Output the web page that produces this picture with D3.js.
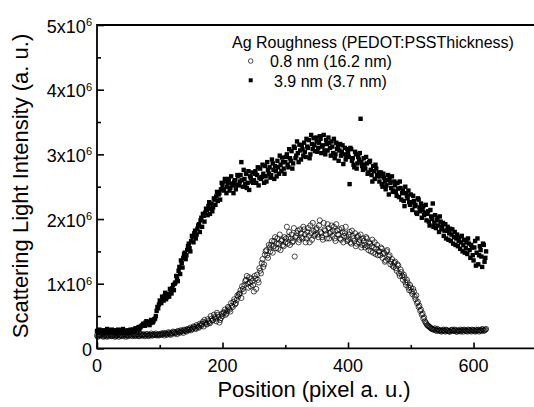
<!DOCTYPE html>
<html>
<head>
<meta charset="utf-8">
<script src="https://cdn.jsdelivr.net/npm/d3@7"></script>
<style>
  body { margin: 0; background: #fff; }
  svg text { font-family: "Liberation Sans", Arial, sans-serif; fill: #000; }
</style>
</head>
<body>
<svg width="534" height="407"></svg>
<script>
// sample positions (pixel a. u.): a main grid every 2.5 px and an in-between grid
var positions = d3.range(0, 620.1, 2.5);
var positionsB = d3.range(1.25, 620, 2.5);

// Ag roughness 3.9 nm (3.7 nm) - filled squares, in units of 1e6
var rough39 = [
  0.27,0.25,0.28,0.26,0.24,0.27,0.26,0.28,0.25,0.27,
  0.26,0.24,0.27,0.25,0.28,0.26,0.25,0.27,0.24,0.26,
  0.27,0.25,0.28,0.29,0.27,0.30,0.31,0.29,0.34,0.36,
  0.38,0.40,0.37,0.41,0.39,0.43,0.42,0.46,0.58,0.62,
  0.74,0.70,0.78,0.81,0.76,0.84,0.80,0.88,0.93,0.90,
  1.02,1.08,1.20,1.15,1.32,1.40,1.48,1.44,1.58,1.55,
  1.66,1.72,1.78,1.70,1.85,1.92,1.98,1.88,2.05,2.10,
  2.14,2.20,2.08,2.24,2.18,2.30,2.35,2.28,2.40,2.46,
  2.52,2.44,2.58,2.50,2.62,2.48,2.55,2.40,2.60,2.53,
  2.66,2.58,2.88,2.50,2.62,2.70,2.56,2.45,2.64,2.72,
  2.60,2.74,2.68,2.52,2.78,2.65,2.70,2.82,2.58,2.76,
  2.80,2.68,2.86,2.62,2.74,2.90,2.70,2.84,2.95,2.78,
  2.88,3.00,2.80,2.94,3.05,2.86,3.10,2.98,3.02,3.15,
  2.92,3.08,3.18,2.96,3.12,3.22,3.00,3.16,3.25,3.05,
  3.20,3.10,3.28,3.02,3.14,3.06,3.22,3.06,3.18,2.98,
  3.12,3.24,3.00,3.08,2.90,3.16,3.04,2.85,3.10,2.96,
  3.02,2.54,3.08,2.94,2.80,3.00,2.86,2.92,3.55,2.82,
  2.94,2.78,2.86,2.72,2.90,2.68,2.82,2.62,2.78,2.66,
  2.58,2.72,2.50,2.64,2.46,2.60,2.38,2.56,2.66,2.44,
  2.52,2.36,2.47,2.58,2.30,2.44,2.20,2.40,2.32,2.26,
  2.38,2.14,2.28,2.22,2.08,2.30,2.12,2.02,2.20,2.10,
  1.98,2.12,1.90,2.04,2.24,1.94,1.86,2.02,1.80,1.96,
  1.88,1.74,1.92,1.82,1.68,1.85,1.76,1.62,1.80,1.70,
  1.58,1.72,1.64,1.50,1.68,1.55,1.46,1.62,1.40,1.56,
  1.36,1.66,1.48,1.30,1.58,1.42,1.62,1.34,1.50
];
var rough39b = [
  0.24,0.29,0.26,0.23,0.28,0.25,0.30,0.24,0.27,0.29,
  0.25,0.28,0.23,0.29,0.26,0.24,0.30,0.27,0.25,0.28,
  0.24,0.29,0.26,0.27,0.31,0.28,0.33,0.32,0.35,0.38,
  0.35,0.42,0.40,0.36,0.44,0.40,0.45,0.50,0.64,0.68,
  0.72,0.80,0.74,0.86,0.79,0.82,0.92,0.85,0.98,1.00,
  1.12,1.04,1.26,1.36,1.25,1.46,1.38,1.52,1.62,1.50,
  1.74,1.64,1.82,1.76,1.90,1.80,2.02,2.08,1.96,2.16,
  2.06,2.26,2.16,2.12,2.32,2.22,2.42,2.38,2.30,2.56,
  2.46,2.62,2.40,2.56,2.44,2.66,2.52,2.58,2.46,2.68,
  2.52,2.68,2.60,2.76,2.54,2.48,2.74,2.66,2.58,2.56,
  2.70,2.56,2.80,2.64,2.62,2.84,2.56,2.66,2.88,2.70,
  2.64,2.92,2.76,2.82,2.66,2.80,2.98,2.74,2.88,2.70,
  2.96,2.84,3.08,2.90,2.78,3.12,2.94,3.20,2.88,3.06,
  3.14,2.98,3.04,3.24,3.10,2.94,3.30,3.08,3.14,3.26,
  3.04,3.18,3.24,3.12,3.30,3.00,3.16,3.26,3.10,3.20,
  3.02,2.94,3.18,3.12,3.06,2.98,3.14,3.00,2.92,3.08,
  2.96,3.10,2.90,2.84,3.04,2.78,2.96,3.02,2.88,2.76,
  2.84,2.96,2.70,2.88,2.76,2.58,2.74,2.84,2.68,2.72,
  2.66,2.54,2.70,2.58,2.52,2.68,2.62,2.48,2.42,2.58,
  2.42,2.56,2.34,2.48,2.40,2.28,2.50,2.36,2.44,2.22,
  2.26,2.36,2.20,2.10,2.32,2.18,2.24,2.14,2.06,2.22,
  2.08,1.96,2.14,2.00,1.88,2.06,1.98,1.90,2.04,1.84,
  1.94,1.82,1.70,1.88,1.78,1.66,1.84,1.72,1.60,1.76,
  1.66,1.54,1.74,1.60,1.48,1.64,1.70,1.52,1.60,1.44,
  1.56,1.28,1.70,1.44,1.52,1.26,1.60,1.40
];

// Ag roughness 0.8 nm (16.2 nm) - open circles, in units of 1e6
var rough08 = [
  0.20,0.19,0.21,0.20,0.18,0.21,0.19,0.20,0.22,0.19,
  0.20,0.21,0.19,0.20,0.18,0.21,0.20,0.19,0.21,0.20,
  0.19,0.21,0.20,0.22,0.19,0.20,0.21,0.19,0.22,0.20,
  0.21,0.20,0.22,0.19,0.21,0.20,0.22,0.21,0.20,0.22,
  0.21,0.23,0.22,0.20,0.23,0.22,0.24,0.21,0.23,0.25,
  0.24,0.22,0.26,0.25,0.27,0.24,0.28,0.26,0.29,0.30,
  0.28,0.31,0.33,0.30,0.34,0.32,0.36,0.38,0.34,0.40,
  0.37,0.42,0.39,0.46,0.44,0.48,0.42,0.52,0.40,0.47,
  0.50,0.55,0.52,0.58,0.62,0.57,0.66,0.72,0.68,0.75,
  0.80,0.85,0.78,0.92,0.98,1.06,1.00,1.10,0.96,1.04,
  0.88,1.08,1.14,1.02,1.20,1.32,1.26,1.45,1.52,1.40,
  1.56,1.60,1.48,1.66,1.55,1.70,1.62,1.52,1.68,1.58,
  1.64,1.88,1.72,1.60,1.76,1.66,1.42,1.74,1.82,1.68,
  1.78,1.70,1.84,1.64,1.80,1.74,1.90,1.68,1.82,1.76,
  1.86,1.72,1.98,1.78,1.68,1.84,1.76,1.92,1.70,1.80,
  1.74,1.88,1.66,1.82,1.76,1.70,1.86,1.64,1.78,1.72,
  1.68,1.80,1.62,1.74,1.66,1.58,1.72,1.64,1.76,1.60,
  1.66,1.56,1.70,1.52,1.62,1.58,1.48,1.64,1.54,1.44,
  1.50,1.56,1.40,1.48,1.36,1.52,1.42,1.30,1.38,1.26,
  1.34,1.20,1.28,1.12,1.18,1.06,1.10,0.98,1.02,0.90,
  0.94,0.84,0.88,0.76,0.70,0.64,0.58,0.52,0.46,0.42,
  0.38,0.35,0.33,0.31,0.30,0.29,0.28,0.30,0.27,0.28,
  0.27,0.29,0.26,0.28,0.27,0.26,0.28,0.27,0.29,0.26,
  0.28,0.27,0.26,0.28,0.29,0.27,0.26,0.28,0.27,0.29,
  0.28,0.26,0.27,0.29,0.28,0.27,0.29,0.28,0.30
];
var rough08b = [
  0.18,0.21,0.20,0.22,0.19,0.21,0.18,0.20,0.21,0.19,
  0.21,0.18,0.20,0.22,0.20,0.19,0.21,0.22,0.18,0.21,
  0.20,0.22,0.19,0.21,0.20,0.22,0.19,0.21,0.20,0.22,
  0.19,0.22,0.20,0.21,0.23,0.20,0.21,0.23,0.21,0.20,
  0.22,0.21,0.24,0.23,0.21,0.25,0.22,0.24,0.26,0.23,
  0.25,0.27,0.24,0.28,0.26,0.29,0.27,0.30,0.28,0.32,
  0.30,0.34,0.31,0.36,0.33,0.38,0.35,0.41,0.44,0.38,
  0.45,0.40,0.50,0.43,0.52,0.46,0.55,0.49,0.44,0.53,
  0.56,0.60,0.54,0.64,0.60,0.70,0.64,0.76,0.70,0.82,
  0.84,0.90,0.96,0.88,1.04,1.12,0.94,1.02,1.08,0.98,
  1.12,0.92,1.06,1.24,1.16,1.38,1.30,1.50,1.44,1.60,
  1.50,1.66,1.58,1.72,1.62,1.54,1.76,1.66,1.60,1.72,
  1.70,1.62,1.80,1.70,1.64,1.86,1.72,1.78,1.64,1.84,
  1.72,1.88,1.76,1.70,1.86,1.64,1.78,1.94,1.74,1.84,
  1.76,1.90,1.80,1.72,1.94,1.82,1.70,1.86,1.78,1.90,
  1.82,1.70,1.92,1.76,1.84,1.68,1.80,1.74,1.88,1.66,
  1.76,1.64,1.82,1.70,1.78,1.62,1.74,1.68,1.56,1.70,
  1.60,1.72,1.58,1.64,1.50,1.68,1.56,1.46,1.60,1.50,
  1.44,1.54,1.46,1.34,1.50,1.38,1.44,1.34,1.28,1.32,
  1.24,1.30,1.16,1.22,1.12,1.14,1.02,1.06,0.94,0.98,
  0.88,0.92,0.80,0.82,0.72,0.66,0.60,0.54,0.48,0.40,
  0.36,0.34,0.32,0.30,0.29,0.31,0.27,0.29,0.28,0.26,
  0.28,0.27,0.29,0.27,0.26,0.28,0.29,0.27,0.28,0.26,
  0.27,0.29,0.28,0.26,0.28,0.27,0.29,0.28,0.26,0.28,
  0.27,0.29,0.28,0.26,0.28,0.30,0.27,0.29
];

var xTicks = [0, 200, 400, 600];
var xMinor = [100, 300, 500, 700];
var yTicks = [0, 1, 2, 3, 4, 5];
var yMinor = [0.5, 1.5, 2.5, 3.5, 4.5];

var legendTitle = 'Ag Roughness (PEDOT:PSSThickness)';
var seriesNames = ['0.8 nm (16.2 nm)', '3.9 nm (3.7 nm)'];

// pair every value with its position
function pairs(pos, vals) {
    return vals.map(function(v, i) { return {p: pos[i], v: v}; });
}
var circleData = pairs(positions, rough08).concat(pairs(positionsB, rough08b));
var squareData = pairs(positions, rough39).concat(pairs(positionsB, rough39b));

var svg = d3.select('svg');
var plot = {l: 97, r: 536.3, t: 25, b: 348.4};

var x = d3.scaleLinear().domain([0, 700]).range([plot.l, plot.r]);
var y = d3.scaleLinear().domain([0, 5]).range([plot.b, plot.t]);

// frame
svg.append('path')
    .attr('d', 'M' + plot.l + ',' + plot.b + 'V' + plot.t + 'H' + plot.r + 'V' + plot.b + 'Z')
    .attr('fill', 'none')
    .attr('stroke', '#000')
    .attr('stroke-width', 1.8);

// ticks pointing inward
svg.append('g')
    .attr('transform', 'translate(0,' + plot.b + ')')
    .call(d3.axisBottom(x).tickValues(xTicks).tickSize(-6).tickFormat(''));
svg.append('g')
    .attr('transform', 'translate(0,' + plot.b + ')')
    .call(d3.axisBottom(x).tickValues(xMinor).tickSize(-3.5).tickFormat(''));
svg.append('g')
    .attr('transform', 'translate(' + plot.l + ',0)')
    .call(d3.axisLeft(y).tickValues(yTicks).tickSize(-7).tickFormat(''));
svg.append('g')
    .attr('transform', 'translate(' + plot.l + ',0)')
    .call(d3.axisLeft(y).tickValues(yMinor).tickSize(-4).tickFormat(''));

svg.selectAll('.domain').remove();
svg.selectAll('.tick line').attr('stroke', '#000').attr('stroke-width', 1.6);

// x tick labels
svg.selectAll('.xlab')
    .data(xTicks)
    .enter().append('text')
    .attr('class', 'xlab')
    .attr('x', function(d) { return x(d); })
    .attr('y', plot.b + 23.5)
    .attr('text-anchor', 'middle')
    .style('font-size', '18px')
    .text(function(d) { return d; });

// y tick labels with superscript exponent
var ylab = svg.selectAll('.ylab')
    .data(yTicks)
    .enter().append('text')
    .attr('class', 'ylab')
    .attr('x', 92)
    .attr('y', function(d) { return y(d) + 7.5; })
    .attr('text-anchor', 'end')
    .style('font-size', '18px');
ylab.append('tspan').text(function(d) { return d === 0 ? '0' : d + 'x10'; });
ylab.filter(function(d) { return d !== 0; })
    .append('tspan')
    .attr('dy', -6.5)
    .style('font-size', '11px')
    .text('6');

// axis titles
svg.append('text')
    .attr('x', 314)
    .attr('y', 397)
    .attr('text-anchor', 'middle')
    .style('font-size', '22px')
    .text('Position (pixel a. u.)');

svg.append('text')
    .attr('transform', 'translate(28,186) rotate(-90)')
    .attr('text-anchor', 'middle')
    .style('font-size', '22px')
    .text('Scattering Light Intensity (a. u.)');

// data
svg.append('g').selectAll('circle')
    .data(circleData)
    .enter().append('circle')
    .attr('cx', function(d) { return x(d.p); })
    .attr('cy', function(d) { return y(d.v); })
    .attr('r', 2.6)
    .attr('fill', 'none')
    .attr('stroke', '#000')
    .attr('stroke-width', 0.7);

var sq = 4.4;
svg.append('g').selectAll('rect')
    .data(squareData)
    .enter().append('rect')
    .attr('x', function(d) { return x(d.p) - sq / 2; })
    .attr('y', function(d) { return y(d.v) - sq / 2; })
    .attr('width', sq)
    .attr('height', sq)
    .attr('fill', '#000');

// legend
var legend = svg.append('g');
legend.append('text')
    .attr('x', 232)
    .attr('y', 47.7)
    .style('font-size', '16px')
    .text(legendTitle);
legend.append('circle')
    .attr('cx', 250.7).attr('cy', 61)
    .attr('r', 2.3)
    .attr('fill', 'none')
    .attr('stroke', '#000')
    .attr('stroke-width', 0.7);
legend.append('text')
    .attr('x', 270).attr('y', 66.7)
    .style('font-size', '16px')
    .text(seriesNames[0]);
legend.append('rect')
    .attr('x', 250.7 - 2).attr('y', 80.3 - 2)
    .attr('width', 4).attr('height', 4)
    .attr('fill', '#000');
legend.append('text')
    .attr('x', 274).attr('y', 86.7)
    .style('font-size', '16px')
    .text(seriesNames[1]);
</script>
</body>
</html>
